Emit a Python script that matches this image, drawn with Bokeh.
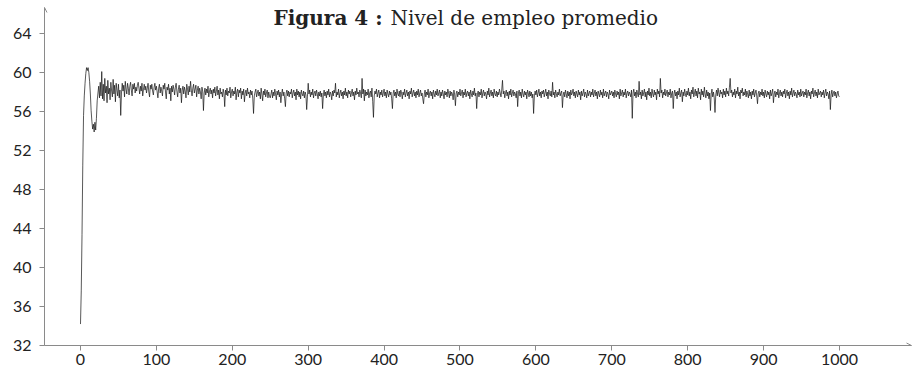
from bokeh.plotting import figure
from bokeh.models import Range1d, FixedTicker, Label, Arrow, OpenHead
from bokeh.embed import file_html
from bokeh.resources import INLINE

# ---- data, one value per period 0..1000 ----
empleo = [
    34.2, 37.6, 43.4, 50.5, 55.6, 57.6, 58.9, 59.9, 60.5, 60.2, 60.5, 60.0, 59.1, 57.8, 56.1, 55.0, 54.2, 54.7, 53.9, 54.9, 54.1, 55.3, 57.1, 57.9, 58.6,
    57.4, 59.0, 57.6, 60.1, 57.3, 58.8, 57.1, 59.4, 57.9, 58.6, 56.9, 59.2, 57.8, 58.4, 57.2, 59.0, 58.1, 57.5, 59.3, 57.8, 58.7, 57.0, 58.9, 58.2, 57.6,
    58.8, 57.4, 58.2, 55.6, 57.9, 58.9, 58.1, 58.7, 57.5, 59.1, 58.3, 57.8, 58.9, 58.4, 57.7, 58.6, 59.0, 58.2, 57.6, 58.8, 58.3, 58.9, 57.9, 58.5, 58.1,
    58.7, 59.0, 58.4, 57.8, 58.6, 58.1, 58.9, 57.6, 58.3, 58.8, 58.2, 58.6, 57.9, 58.4, 58.9, 58.0, 57.5, 58.7, 58.3, 58.8, 58.1, 57.7, 58.5, 58.9, 58.2,
    58.6, 58.0, 57.4, 58.4, 58.8, 57.9, 58.5, 58.1, 57.6, 58.7, 58.3, 58.9, 58.0, 57.3, 58.5, 58.2, 58.8, 57.8, 58.4, 57.1, 58.6, 58.0, 58.7, 58.3, 57.7,
    58.5, 58.9, 58.1, 57.5, 58.3, 58.7, 57.9, 58.4, 56.9, 58.2, 58.6, 57.8, 58.5, 58.1, 57.4, 58.8, 58.3, 57.7, 58.6, 58.0, 59.1, 58.2, 57.6, 58.4, 58.8,
    57.9, 58.3, 58.7, 57.5, 58.2, 58.6, 57.8, 58.4, 58.0, 57.3, 58.5, 58.1, 56.1, 57.9, 58.4, 57.7, 58.3, 57.9, 58.6, 57.5, 58.1, 58.4, 57.8, 58.2, 57.4,
    58.3, 57.9, 58.5, 57.6, 58.1, 58.6, 57.7, 58.2, 57.3, 58.4, 57.8, 58.0, 57.5, 58.3, 57.9, 56.5, 58.2, 57.7, 58.4, 57.6, 58.1, 57.9, 58.5, 57.4, 58.0,
    58.3, 57.6, 58.1, 57.8, 58.5, 57.2, 58.0, 58.3, 57.5, 58.2, 57.9, 58.4, 57.3, 58.1, 57.7, 58.3, 57.0, 57.9, 58.2, 57.6, 58.4, 57.8, 58.0, 57.4, 58.2,
    57.7, 58.1, 57.3, 55.8, 57.6, 58.0, 58.3, 57.5, 57.9, 58.2, 57.6, 58.0, 57.3, 58.4, 57.8, 57.1, 58.1, 57.7, 58.3, 57.5, 57.9, 58.2, 57.4, 58.0, 57.6,
    57.4, 57.8, 58.2, 57.4, 58.0, 57.6, 58.3, 57.8, 57.2, 58.1, 57.7, 58.2, 57.5, 58.0, 56.9, 57.8, 58.3, 57.6, 58.0, 57.3, 56.5, 57.9, 58.2, 57.6, 58.1,
    57.5, 58.0, 57.8, 58.3, 57.4, 57.9, 58.2, 57.6, 58.0, 57.2, 58.3, 57.7, 58.1, 57.5, 58.0, 57.3, 58.2, 57.8, 57.6, 58.1, 57.4, 58.0, 57.7, 56.2, 57.5,
    58.9, 57.8, 58.2, 57.5, 58.0, 57.7, 58.3, 57.4, 57.9, 58.1, 57.6, 58.2, 57.8, 57.3, 58.0, 57.6, 58.1, 57.5, 57.9, 56.3, 57.7, 58.2, 57.6, 58.0, 57.4,
    58.1, 57.7, 58.3, 57.5, 58.0, 57.8, 57.2, 58.1, 57.6, 58.2, 57.9, 58.9, 57.5, 58.0, 57.7, 58.3, 57.4, 57.9, 58.2, 57.6, 58.0, 57.3, 58.1, 57.7, 58.4,
    57.6, 58.0, 57.4, 58.2, 57.8, 58.1, 57.5, 57.9, 58.3, 57.6, 58.0, 57.2, 58.1, 57.7, 58.4, 57.8, 58.0, 57.5, 58.2, 57.9, 57.4, 59.4, 57.8, 58.3, 57.1,
    58.2, 57.6, 58.0, 57.7, 58.3, 57.4, 57.9, 58.1, 57.5, 58.4, 57.0, 55.4, 57.6, 58.1, 57.8, 58.3, 57.5, 57.9, 58.2, 57.4, 58.0, 57.7, 58.2, 57.5, 57.9,
    58.3, 57.6, 58.0, 57.4, 58.2, 57.8, 57.5, 58.1, 57.7, 58.0, 57.3, 56.3, 57.9, 58.2, 57.6, 58.0, 57.4, 58.3, 57.8, 57.6, 58.1, 57.5, 58.2, 57.9, 57.3,
    58.0, 57.7, 58.3, 57.5, 57.9, 58.2, 57.6, 58.0, 57.3, 58.1, 57.8, 58.4, 57.5, 57.9, 58.2, 57.6, 58.0, 57.4, 58.1, 57.7, 58.3, 57.5, 57.9, 58.2, 57.6,
    57.9, 57.3, 56.8, 57.8, 58.2, 57.5, 58.0, 57.7, 58.3, 57.4, 57.9, 58.1, 57.6, 58.0, 57.3, 58.2, 57.8, 57.5, 58.1, 57.7, 58.3, 57.6, 57.9, 58.2, 57.4,
    58.0, 57.6, 58.2, 57.8, 57.3, 58.1, 57.7, 58.0, 57.5, 58.3, 57.9, 57.4, 58.1, 57.6, 58.0, 57.8, 57.2, 58.2, 57.7, 56.6, 57.9, 58.1, 57.5, 58.0, 57.7,
    58.3, 57.6, 57.9, 58.2, 57.4, 58.0, 57.7, 58.3, 57.5, 57.9, 58.1, 57.6, 58.0, 57.3, 58.2, 57.8, 57.5, 58.1, 57.7, 58.4, 57.6, 57.9, 56.3, 57.8, 58.1,
    57.5, 58.0, 57.7, 58.3, 57.4, 57.9, 58.2, 57.6, 58.0, 57.8, 57.3, 58.1, 57.7, 58.4, 57.5, 57.9, 58.2, 57.6, 58.0, 57.4, 58.3, 57.8, 57.6, 58.1, 57.5,
    58.0, 57.7, 58.3, 57.9, 57.5, 58.2, 59.2, 57.8, 58.1, 57.4, 57.9, 58.2, 57.6, 58.0, 57.3, 58.1, 57.7, 58.3, 57.5, 57.9, 58.2, 57.6, 58.0, 57.8, 57.4,
    58.1, 56.5, 57.9, 58.2, 57.6, 58.0, 57.4, 58.3, 57.8, 57.5, 58.1, 57.7, 58.0, 57.3, 58.2, 57.9, 57.5, 58.1, 57.6, 58.0, 57.4, 57.8, 55.8, 57.6, 58.1,
    57.7, 58.2, 57.5, 57.9, 58.3, 57.6, 58.0, 57.4, 58.1, 57.8, 58.2, 57.5, 57.9, 58.3, 57.6, 58.0, 57.3, 58.2, 57.8, 57.6, 58.1, 57.5, 59.0, 57.7, 58.0,
    57.4, 58.2, 57.8, 57.5, 58.0, 57.7, 58.3, 57.6, 57.9, 58.1, 56.4, 57.7, 58.0, 57.5, 58.2, 57.8, 57.4, 58.1, 57.6, 58.0, 57.3, 58.2, 57.7, 57.9, 58.3,
    57.6, 58.0, 57.4, 58.1, 57.8, 57.5, 58.2, 57.7, 58.0, 57.2, 58.1, 57.6, 57.9, 58.3, 57.5, 58.0, 57.8, 57.4, 58.2, 57.6, 57.9, 58.1, 57.5, 58.0, 57.7,
    58.3, 57.5, 57.9, 58.2, 57.6, 58.0, 57.3, 58.1, 57.8, 57.5, 58.2, 57.7, 58.0, 57.4, 58.3, 57.6, 57.9, 58.1, 57.5, 58.0, 57.8, 57.3, 58.2, 57.7, 57.9,
    58.1, 57.6, 58.0, 57.4, 58.2, 57.8, 57.5, 58.1, 57.7, 58.0, 57.3, 58.3, 57.6, 57.9, 58.2, 57.5, 58.0, 57.7, 58.3, 57.4, 57.9, 58.1, 57.6, 58.0, 57.8,
    57.5, 58.2, 55.3, 57.9, 58.3, 57.6, 58.0, 57.4, 58.2, 57.8, 57.5, 59.1, 57.7, 58.0, 57.3, 58.2, 57.6, 57.9, 58.3, 57.5, 58.0, 57.2, 58.1, 57.7, 58.4,
    57.6, 58.0, 57.4, 58.3, 57.8, 57.5, 58.2, 57.7, 58.0, 57.2, 58.3, 57.8, 58.1, 57.5, 59.4, 57.9, 58.2, 57.4, 58.0, 57.7, 58.3, 57.6, 57.9, 58.2, 57.5,
    58.0, 57.7, 58.3, 57.4, 57.9, 58.1, 56.3, 57.8, 58.2, 57.6, 58.0, 57.3, 58.1, 57.7, 58.4, 57.5, 57.9, 58.2, 57.0, 58.0, 57.6, 58.3, 57.8, 57.5, 58.1,
    57.7, 58.4, 57.6, 58.0, 57.3, 58.2, 57.8, 58.5, 57.5, 57.9, 58.3, 57.6, 58.1, 57.4, 58.4, 57.8, 58.0, 57.2, 58.3, 57.7, 58.1, 57.5, 58.5, 57.8, 57.4,
    58.2, 57.6, 58.0, 57.3, 57.9, 56.1, 57.8, 58.3, 57.5, 58.0, 57.4, 55.9, 57.7, 58.2, 57.6, 58.4, 57.9, 57.5, 58.2, 57.8, 58.0, 57.4, 58.3, 57.7, 58.1,
    57.5, 58.4, 57.8, 58.1, 57.6, 58.5, 59.4, 57.9, 58.2, 57.5, 58.0, 57.7, 58.3, 57.4, 58.1, 57.8, 58.5, 57.6, 58.0, 57.3, 58.2, 57.9, 58.4, 57.6, 58.0,
    57.7, 58.3, 57.5, 58.1, 57.8, 57.4, 58.2, 57.6, 58.0, 57.3, 58.1, 57.7, 58.3, 57.5, 57.9, 58.2, 57.6, 56.8, 57.9, 58.1, 57.5, 58.0, 57.7, 58.3, 57.6,
    58.0, 57.4, 58.2, 57.8, 57.5, 58.1, 57.7, 58.0, 57.3, 58.2, 57.6, 57.9, 58.3, 56.9, 57.8, 58.1, 57.5, 58.0, 57.7, 58.3, 57.4, 57.9, 58.2, 57.6, 58.0,
    57.5, 58.1, 57.8, 58.3, 57.4, 57.9, 58.2, 57.6, 58.0, 57.3, 58.1, 57.7, 58.4, 57.5, 57.9, 58.2, 57.6, 58.0, 57.8, 57.4, 58.2, 57.7, 58.0, 57.5, 58.3,
    57.6, 57.9, 58.1, 57.5, 58.0, 57.7, 58.3, 57.4, 57.9, 58.2, 57.6, 58.0, 57.3, 58.1, 57.8, 58.4, 57.5, 57.9, 58.2, 57.6, 58.0, 57.4, 58.3, 57.7, 57.9,
    58.1, 57.5, 58.0, 57.7, 58.2, 57.4, 57.9, 58.3, 57.6, 58.0, 57.8, 57.3, 58.1, 56.2, 57.7, 58.2, 57.5, 57.9, 58.1, 57.6, 58.0, 57.4, 57.8, 58.1, 57.6,
    57.5,
]
periodo = list(range(len(empleo)))
x_ticks = [0, 100, 200, 300, 400, 500, 600, 700, 800, 900, 1000]
y_ticks = [32, 36, 40, 44, 48, 52, 56, 60, 64]
titulo_negrita = "Figura 4 :"
titulo_resto = "Nivel de empleo promedio"

AXIS_GRAY = "#8a8a8a"
X0, X1 = -47.43, 1094.9
Y0, Y1 = 32, 66.67

p = figure(width=912, height=373, output_backend="svg", toolbar_location=None,
           x_range=Range1d(X0, X1), y_range=Range1d(Y0, Y1),
           min_border_left=44, min_border_right=1, min_border_top=7, min_border_bottom=28)
p.outline_line_color = None
p.xgrid.visible = False
p.ygrid.visible = False
p.background_fill_color = "white"

p.line(periodo, empleo, line_color="#111111", line_width=0.7)

p.xaxis.ticker = FixedTicker(ticks=x_ticks)
p.yaxis.ticker = FixedTicker(ticks=y_ticks)
for ax in (p.xaxis[0], p.yaxis[0]):
    ax.axis_line_color = AXIS_GRAY
    ax.axis_line_width = 1
    ax.major_tick_line_color = AXIS_GRAY
    ax.major_tick_in = 0
    ax.major_tick_out = 5
    ax.minor_tick_line_color = None
    ax.major_label_text_font = "Lato"
    ax.major_label_text_font_size = "16px"
    ax.major_label_text_color = "#222222"
p.xaxis.major_label_standoff = 3
p.yaxis.major_label_standoff = 8

# axis arrowheads
p.add_layout(Arrow(end=OpenHead(size=5, line_color=AXIS_GRAY, line_width=1),
                   x_start=X0, y_start=Y0, x_end=X0, y_end=Y1,
                   line_color=AXIS_GRAY, line_width=1))
p.add_layout(Arrow(end=OpenHead(size=5, line_color=AXIS_GRAY, line_width=1),
                   x_start=X0, y_start=Y0, x_end=X1, y_end=Y0,
                   line_color=AXIS_GRAY, line_width=1))

# title (two parts: bold + regular)
p.add_layout(Label(x=398, y=65.64, text=titulo_negrita, text_align="right", text_baseline="alphabetic",
                   text_font="DejaVu Serif", text_font_style="bold", text_font_size="20px",
                   text_color="#222222"))
p.add_layout(Label(x=408.5, y=65.64, text=titulo_resto, text_align="left", text_baseline="alphabetic",
                   text_font="DejaVu Serif", text_font_size="20px", text_color="#222222"))

open("out.html", "w").write(file_html(p, INLINE))
